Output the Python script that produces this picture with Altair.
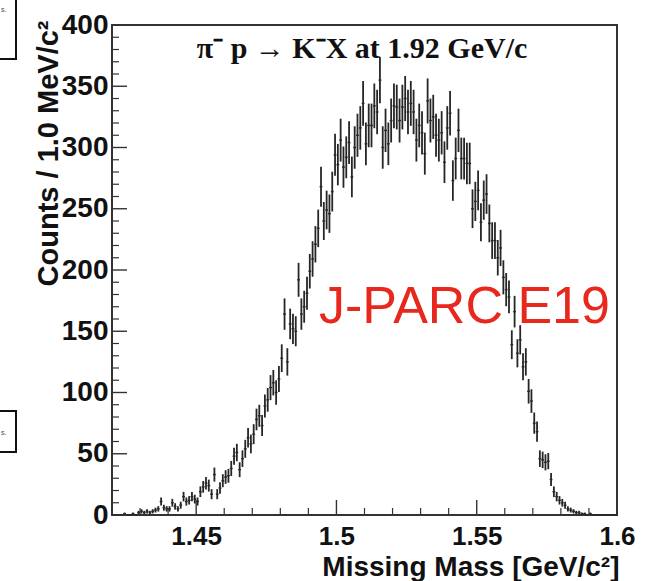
import altair as alt
import numpy as np
import pandas as pd

# Missing-mass histogram, 1 MeV bins starting at 1.42 GeV/c^2
BIN_LOW = 1.42
BIN_WIDTH = 0.001

counts = (
    [0, 0, 0, 0, 1, 0, 0, 1, 0, 2]
    + [3, 2, 3, 2, 3, 4, 5, 11, 6, 5]
    + [5, 10, 7, 5, 8, 15, 11, 12, 15, 13]
    + [11, 19, 23, 26, 24, 17, 33, 17, 22, 28]
    + [31, 32, 38, 48, 51, 37, 46, 54, 63, 58]
    + [66, 78, 81, 73, 89, 94, 104, 108, 100, 111]
    + [128, 164, 125, 156, 152, 150, 192, 164, 170, 181]
    + [199, 209, 221, 234, 268, 240, 249, 246, 264, 294]
    + [286, 306, 284, 292, 304, 276, 300, 310, 316, 336]
    + [303, 318, 318, 334, 329, 355, 300, 314, 303, 322]
    + [334, 333, 322, 333, 340, 329, 336, 329, 306, 318]
    + [312, 295, 338, 322, 325, 310, 306, 312, 288, 316]
    + [328, 273, 291, 314, 291, 291, 287, 287, 250, 256]
    + [265, 239, 257, 262, 238, 224, 224, 210, 218, 194]
    + [184, 178, 139, 166, 132, 143, 121, 125, 101, 93]
    + [75, 68, 46, 45, 43, 44, 29, 19, 15, 12]
    + [10, 8, 5, 4, 3, 2, 2, 1, 1, 0]
    + [1, 0, 0, 0, 0, 0, 0, 0, 0, 0]
)

x_major = [1.45, 1.5, 1.55, 1.6]
x_minor = [1.43, 1.44, 1.46, 1.47, 1.48, 1.49, 1.51, 1.52, 1.53, 1.54,
           1.56, 1.57, 1.58, 1.59]
y_major = [0, 50, 100, 150, 200, 250, 300, 350, 400]
y_minor = [v for v in range(10, 400, 10) if v % 50 != 0]

W, H = 505, 490

centers = [round(BIN_LOW + BIN_WIDTH * (i + 0.5), 4) for i in range(len(counts))]
hist = pd.DataFrame({"mass": centers, "counts": counts})
hist["err"] = np.sqrt(hist["counts"])
hist["lo"] = hist["counts"] - hist["err"]
hist["hi"] = hist["counts"] + hist["err"]
hist["xl"] = hist["mass"] - BIN_WIDTH / 2
hist["xr"] = hist["mass"] + BIN_WIDTH / 2

x_scale = alt.Scale(domain=[1.42, 1.6], nice=False, zero=False)
y_scale = alt.Scale(domain=[0, 400], nice=False)

x_axis = alt.Axis(
    values=x_major, format="~g", grid=False, ticks=False, domain=False,
    tickSize=0, labelFlush=False, labelPadding=8,
    labelFont="Liberation Sans", labelFontWeight="bold", labelFontSize=26,
    labelColor="#111",
    title="Missing Mass [GeV/c²]", titleFont="Liberation Sans",
    titleFontWeight="bold", titleFontSize=28, titleColor="#111",
    titleAnchor="end", titleAlign="right", titleBaseline="alphabetic",
    titleX=W + 2, titleY=60,
)
y_axis = alt.Axis(
    values=y_major, format="d", grid=False, ticks=False, domain=False,
    tickSize=0, labelPadding=4,
    labelFont="Liberation Sans", labelFontWeight="bold", labelFontSize=28,
    labelColor="#111",
    title="Counts / 1.0 MeV/c²", titleFont="Liberation Sans",
    titleFontWeight="bold", titleFontSize=29, titleColor="#111",
    titleAngle=270, titleAlign="right", titleBaseline="alphabetic",
    titleX=-55, titleY=-5,
)

INK = "#262626"

vert = alt.Chart(hist).mark_rule(color=INK, strokeWidth=1.8).encode(
    x=alt.X("mass:Q", scale=x_scale, axis=x_axis),
    y=alt.Y("lo:Q", scale=y_scale, axis=y_axis),
    y2="hi:Q",
)
horiz = alt.Chart(hist).mark_rule(color=INK, strokeWidth=1.4).encode(
    x=alt.X("xl:Q", scale=x_scale),
    x2="xr:Q",
    y=alt.Y("counts:Q", scale=y_scale),
)

# inward-pointing ticks drawn along the frame
ymaj = alt.Chart(pd.DataFrame({"v": y_major})).mark_rule(color="#333", strokeWidth=1.4).encode(
    y=alt.Y("v:Q", scale=y_scale), x=alt.value(0), x2=alt.value(15))
ymin = alt.Chart(pd.DataFrame({"v": y_minor})).mark_rule(color="#333", strokeWidth=1.2).encode(
    y=alt.Y("v:Q", scale=y_scale), x=alt.value(0), x2=alt.value(7))
xmaj = alt.Chart(pd.DataFrame({"v": x_major})).mark_rule(color="#333", strokeWidth=1.4).encode(
    x=alt.X("v:Q", scale=x_scale), y=alt.value(H), y2=alt.value(H - 15))
xmin = alt.Chart(pd.DataFrame({"v": x_minor})).mark_rule(color="#333", strokeWidth=1.2).encode(
    x=alt.X("v:Q", scale=x_scale), y=alt.value(H), y2=alt.value(H - 7))

reaction = alt.Chart(pd.DataFrame({"t": ["π⁻ p   → K⁻X at 1.92 GeV/c"]})).mark_text(
    font="Liberation Serif", fontWeight="bold", fontSize=30, color="#111",
    align="center", baseline="alphabetic",
).encode(text="t:N", x=alt.value(250), y=alt.value(33))

label = alt.Chart(pd.DataFrame({"t": ["J-PARC E19"]})).mark_text(
    font="Liberation Sans", fontSize=52, color="#e8281c",
    align="left", baseline="alphabetic",
).encode(text="t:N", x=alt.value(207), y=alt.value(298))

# frames of neighbouring panels cut by the left edge
boxes = alt.Chart(pd.DataFrame({"y1": [-40, 386], "y2": [34, 427]})).mark_rect(
    fill="white", stroke="#111", strokeWidth=2
).encode(
    x=alt.value(-140), x2=alt.value(-96),
    y=alt.Y("y1:Q", scale=None), y2="y2:Q",
)
box_text = alt.Chart(pd.DataFrame({"t": ["s.", "s."], "yy": [-15, 408]})).mark_text(
    font="Liberation Sans", fontSize=7, color="#444", align="left", baseline="middle",
).encode(text="t:N", x=alt.value(-111), y=alt.Y("yy:Q", scale=None))

chart = alt.layer(boxes, box_text, vert, horiz, ymaj, ymin, xmaj, xmin, reaction, label).properties(
    width=W, height=H,
    autosize=alt.AutoSizeParams(type="none"),
    padding={"left": 112, "top": 25, "right": 34, "bottom": 66},
    background="white",
).configure_view(stroke="#333", strokeWidth=2)

chart.save("out.html", embed_options={"renderer": "svg", "actions": False})
